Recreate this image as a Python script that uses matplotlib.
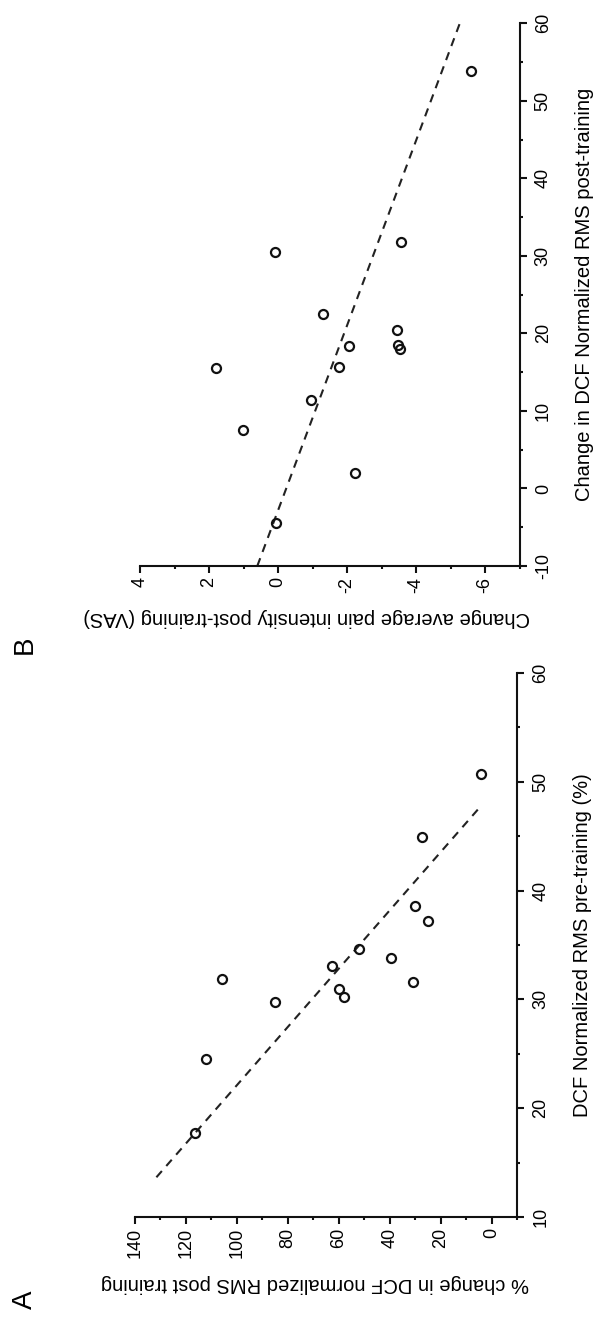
import matplotlib
matplotlib.use("Agg")
import matplotlib.pyplot as plt
from matplotlib.ticker import MultipleLocator

plt.rcParams['font.family'] = ['Liberation Sans', 'DejaVu Sans']
plt.rcParams['axes.unicode_minus'] = False

# panel A: DCF normalized RMS pre-training (%) vs % change post training
pre_rms_a = [17.7, 24.5, 29.8, 31.9, 33.1, 31.0, 30.2, 34.6, 33.8, 31.6, 38.6, 37.2, 44.9, 50.7]
change_a = [116.5, 112.0, 85.0, 106.0, 62.5, 60.0, 58.0, 52.0, 39.5, 30.8, 30.0, 25.0, 27.3, 4.1]
fit_a_x = [13.65, 47.9]
fit_a_y = [131.6, 3.7]

# panel B: change in DCF normalized RMS vs change in pain (VAS)
rms_change_b = [-4.4, 2.0, 7.6, 11.4, 15.5, 15.7, 18.4, 18.0, 18.5, 20.4, 22.5, 30.5, 31.8, 53.8]
pain_change_b = [0.05, -2.24, 1.02, -0.97, 1.81, -1.78, -2.07, -3.55, -3.48, -3.46, -1.29, 0.09, -3.57, -5.59]
fit_b_x = [-10, 60]
fit_b_y = [0.6, -5.27]

W, H = 603, 1321
fig = plt.figure(figsize=(W / 100, H / 100), dpi=100)

# figure is drawn turned 90 degrees: original y runs horizontally (reversed),
# original x runs upward, labels rotated with it
def panel(box, xs, ys, fx, fy, hlim, vlim, hmaj, hmin, vmaj, vmin, xlabel, ylabel, label_pos, letter, letter_y):
    ax = fig.add_axes(box)
    ax.plot(fy, fx, color='#222222', lw=1.5, ls=(0, (4, 3.2)))
    ax.plot(ys, xs, 'o', ms=6.5, mfc='none', mec='#111111', mew=1.6, clip_on=False)
    ax.set_xlim(*hlim)
    ax.set_ylim(*vlim)
    for s in ['top', 'left']:
        ax.spines[s].set_visible(False)
    for s in ['bottom', 'right']:
        ax.spines[s].set_linewidth(1.5)
        ax.spines[s].set_color('#111111')
    ax.yaxis.tick_right()
    ax.yaxis.set_label_position('right')
    ax.xaxis.set_major_locator(MultipleLocator(hmaj))
    ax.xaxis.set_minor_locator(MultipleLocator(hmin))
    ax.yaxis.set_major_locator(MultipleLocator(vmaj))
    ax.yaxis.set_minor_locator(MultipleLocator(vmin))
    ax.tick_params(which='major', length=5, width=1.5, color='#111111', labelsize=13)
    ax.tick_params(which='minor', length=2.5, width=1.5, color='#111111')
    ax.tick_params(axis='x', labelrotation=90, pad=3)
    ax.tick_params(axis='y', labelrotation=90, pad=6)
    for t in ax.get_yticklabels():
        t.set_verticalalignment('center')
    ax.set_xlabel(ylabel, fontsize=14.5, rotation=180, labelpad=11)
    ax.xaxis.label.set_x(label_pos)
    ax.set_ylabel(xlabel, fontsize=14.5, rotation=90, labelpad=17)
    fig.text(25 / W, 1 - letter_y / H, letter, fontsize=20, rotation=90, ha='center', va='center')
    return ax

panel([135 / W, 1 - 1217 / H, 382 / W, 544 / H], pre_rms_a, change_a, fit_a_x, fit_a_y,
      (140, -10), (10, 60), 20, 10, 10, 5,
      'DCF Normalized RMS pre-training (%)',
      '% change in DCF normalized RMS post training', 0.47, 'A', 1300)

panel([140 / W, 1 - 566 / H, 379.5 / W, 542.7 / H], rms_change_b, pain_change_b, fit_b_x, fit_b_y,
      (4, -7), (-10, 60), 2, 1, 10, 5,
      'Change in DCF Normalized RMS post-training',
      'Change average pain intensity post-training (VAS)', 0.44, 'B', 645)

fig.savefig('out.png', dpi=100)
